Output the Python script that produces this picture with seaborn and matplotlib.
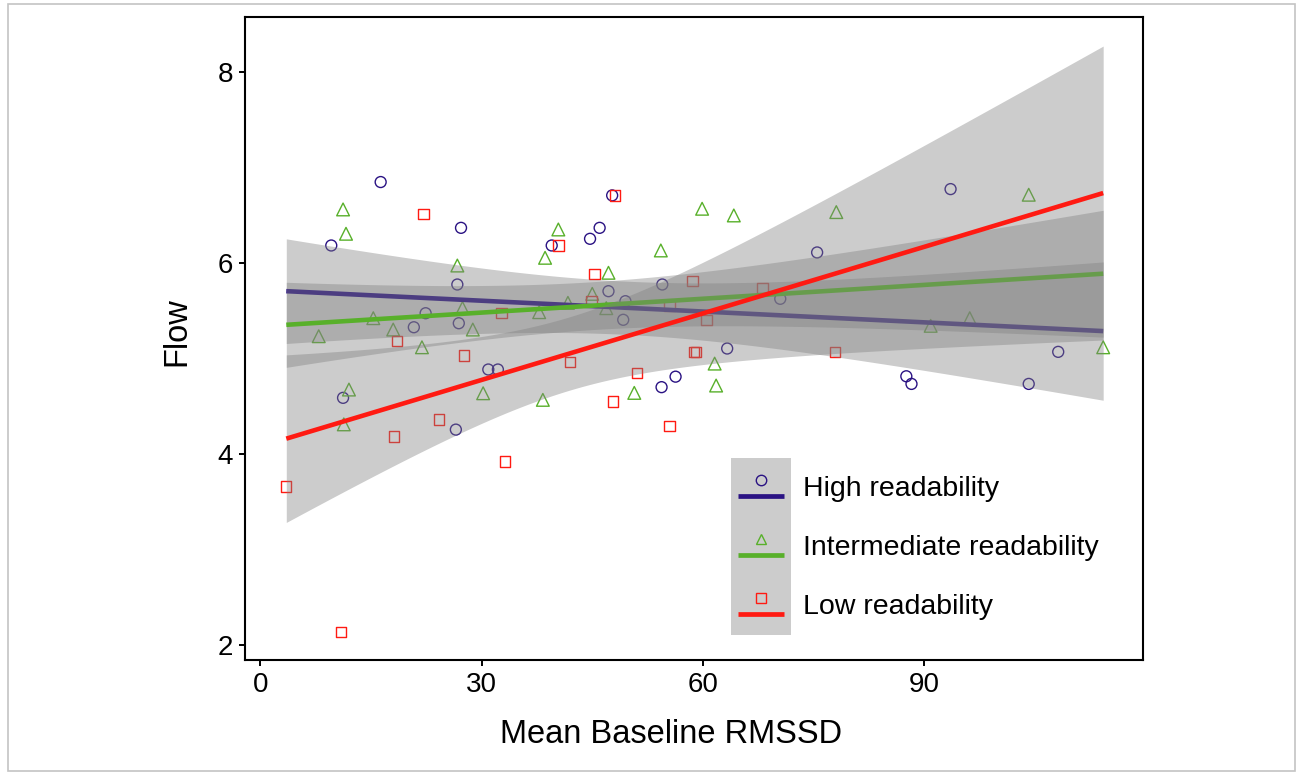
import math
import numpy as np
import pandas as pd
import seaborn as sns
import matplotlib.pyplot as plt
from matplotlib.legend_handler import HandlerBase
from matplotlib.lines import Line2D
from matplotlib.patches import Rectangle

# values
groups = ["High readability", "Intermediate readability", "Low readability"]

high_x = [16.3, 27.2, 9.6, 26.7, 22.4, 20.8, 26.9, 11.2, 26.5, 47.7, 46.0, 44.7, 39.5, 47.2, 54.5,
          49.5, 49.2, 30.9, 32.2, 54.4, 75.5, 70.5, 63.3, 56.3, 93.6, 108.2, 87.6, 88.3, 104.2]
high_y = [6.85, 6.37, 6.185, 5.776, 5.475, 5.328, 5.37, 4.588, 4.255, 6.71, 6.37, 6.255, 6.185, 5.706, 5.776,
          5.601, 5.406, 4.885, 4.885, 4.70, 6.112, 5.626, 5.105, 4.81, 6.776, 5.07, 4.814, 4.734, 4.734]

mid_x = [11.2, 11.6, 26.7, 15.3, 18.0, 27.4, 7.9, 21.9, 12.0, 11.3, 40.4, 38.6, 54.3, 47.2, 45.0, 41.7,
         46.9, 37.8, 28.8, 30.2, 38.3, 50.7, 59.9, 64.2, 78.1, 61.6, 61.8, 104.2, 90.9, 96.2, 114.3]
mid_y = [6.563, 6.308, 5.975, 5.423, 5.304, 5.53, 5.234, 5.118, 4.675, 4.31, 6.353, 6.056, 6.133, 5.899, 5.678, 5.584,
         5.528, 5.486, 5.304, 4.636, 4.567, 4.64, 6.57, 6.50, 6.535, 4.947, 4.717, 6.717, 5.343, 5.423, 5.118]

low_x = [22.1, 18.5, 27.6, 24.2, 18.1, 3.5, 10.9, 33.2, 55.5, 47.8, 48.1, 40.4, 45.3, 44.9, 32.7, 42.0,
         51.1, 58.6, 68.1, 55.5, 60.5, 58.8, 59.1, 77.9]
low_y = [6.518, 5.181, 5.031, 4.363, 4.182, 3.66, 2.136, 3.92, 4.29, 4.55, 6.71, 6.185, 5.888, 5.601, 5.479, 4.961,
         4.85, 5.81, 5.742, 5.556, 5.406, 5.07, 5.07, 5.07]

x_ticks = [0, 30, 60, 90]
y_ticks = [2, 4, 6, 8]

colors = {"High readability": "#2a1283", "Intermediate readability": "#58b02a", "Low readability": "#ff1a12"}
markers = {"High readability": "o", "Intermediate readability": "^", "Low readability": "s"}
sizes = {"High readability": 62, "Intermediate readability": 84, "Low readability": 56}

df = pd.concat([
    pd.DataFrame({"rmssd": high_x, "flow": high_y, "group": groups[0]}),
    pd.DataFrame({"rmssd": mid_x, "flow": mid_y, "group": groups[1]}),
    pd.DataFrame({"rmssd": low_x, "flow": low_y, "group": groups[2]}),
], ignore_index=True)


def t_quantile(p, dof):
    # numeric inverse of the t cdf
    grid = np.linspace(0, 12, 24001)
    c = math.gamma((dof + 1) / 2) / (math.sqrt(dof * math.pi) * math.gamma(dof / 2))
    pdf = c * (1 + grid ** 2 / dof) ** (-(dof + 1) / 2)
    cdf = 0.5 + np.concatenate([[0], np.cumsum((pdf[1:] + pdf[:-1]) / 2 * np.diff(grid))])
    return np.interp(p, cdf, grid)


sns.set_theme(style="ticks")
plt.rcParams['font.family'] = ['Liberation Sans', 'DejaVu Sans']

fig = plt.figure(figsize=(12.96, 7.72), dpi=100)
ax = fig.add_axes([245 / 1296, 112 / 772, 898 / 1296, 643 / 772])

# points first
for g in groups:
    sub = df[df.group == g]
    sns.scatterplot(data=sub, x="rmssd", y="flow", marker=markers[g], s=sizes[g], color=colors[g],
                    linewidth=1.0, ax=ax, legend=False, zorder=2)
    pts = ax.collections[-1]
    pts.set_facecolor("none")
    pts.set_edgecolor(colors[g])

# linear fits with 95% band, over the full x range
grid = np.linspace(df.rmssd.min(), df.rmssd.max(), 200)
for i, g in enumerate(groups):
    sub = df[df.group == g]
    x = sub.rmssd.values
    y = sub.flow.values
    n = len(x)
    b, a = np.polyfit(x, y, 1)
    resid = y - (a + b * x)
    s = np.sqrt(np.sum(resid ** 2) / (n - 2))
    sxx = np.sum((x - x.mean()) ** 2)
    fit = a + b * grid
    half = t_quantile(0.975, n - 2) * s * np.sqrt(1 / n + (grid - x.mean()) ** 2 / sxx)
    ax.fill_between(grid, fit - half, fit + half, color="#808080", alpha=0.4, lw=0, zorder=3 + 2 * i)
    ax.plot(grid, fit, color=colors[g], lw=3.3, solid_capstyle="butt", zorder=4 + 2 * i)

ax.set_xlim(-2.1, 119.7)
ax.set_ylim(1.84, 8.58)
ax.set_xticks(x_ticks)
ax.set_yticks(y_ticks)
ax.tick_params(direction="out", length=4.5, width=1.4, color="black", labelsize=20,
               labelcolor="black", pad=4)
for sp in ax.spines.values():
    sp.set_color("black")
    sp.set_linewidth(1.5)

ax.set_xlabel("Mean Baseline RMSSD", fontsize=23.5, color="black")
ax.set_ylabel("Flow", fontsize=23.5, color="black")
ax.xaxis.label.set_va("center")
ax.yaxis.label.set_va("center")
ax.xaxis.set_label_coords(0.4744, -0.1151)
ax.yaxis.set_label_coords(-0.0763, 0.51)


class Key:
    def __init__(self, color, marker):
        self.color = color
        self.marker = marker


class KeyHandler(HandlerBase):
    def create_artists(self, legend, orig_handle, xdescent, ydescent, width, height, fontsize, trans):
        x0, y0 = -xdescent, -ydescent
        bg = Rectangle((x0, y0), width, height, facecolor="#cccccc", edgecolor="none",
                       transform=trans)
        ln = Line2D([x0 + 0.11 * width, x0 + 0.89 * width], [y0 + 0.36 * height] * 2,
                    color=orig_handle.color, lw=3.4, solid_capstyle="butt", transform=trans)
        mk = Line2D([x0 + width / 2], [y0 + 0.63 * height], marker=orig_handle.marker,
                    ms=7.5, mfc="none", mec=orig_handle.color, mew=1.0, ls="none", transform=trans)
        return [bg, ln, mk]


handles = [Key(colors[g], markers[g]) for g in groups]
ax.legend(handles, groups, handler_map={Key: KeyHandler()}, loc="upper left",
          bbox_to_anchor=(0.5412, 0.3142), borderaxespad=0, borderpad=0, frameon=False,
          fontsize=20.5, labelcolor="black", handlelength=2.1, handleheight=2.807,
          labelspacing=0, handletextpad=0.42)

# thin grey border round the whole picture
fig.add_artist(Rectangle((8 / 1296, 1 / 772), 1287 / 1296, 767 / 772, transform=fig.transFigure,
                         fill=False, edgecolor="#c4c4c4", lw=1.2))

fig.savefig("out.png", dpi=100)
